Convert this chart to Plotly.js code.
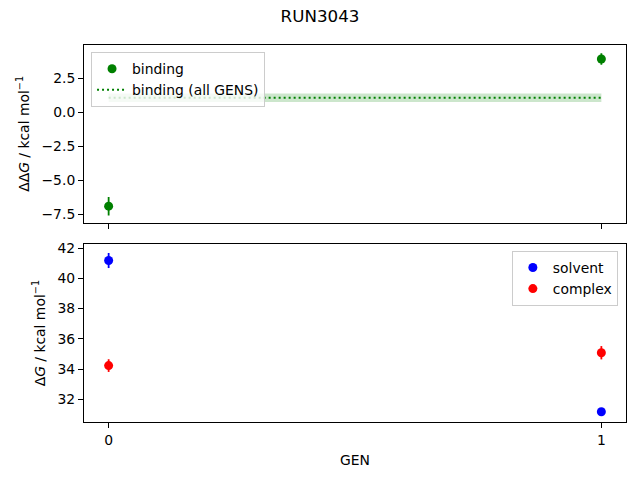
<!DOCTYPE html>
<html>
<head>
<meta charset="utf-8">
<script src="https://cdn.plot.ly/plotly-3.0.1.min.js"></script>
<style>body{margin:0;padding:0;}</style>
</head>
<body>
<div id="chart" style="width:640px;height:480px;"></div>
<script>
const gens = [0, 1];
const bindingVals = [-6.92, 3.9];
const bindingErr = [0.68, 0.42];
const bindingAll = 1.05;
const bindingAllErr = 0.32;
const solventVals = [41.18, 31.18];
const solventErr = [0.5, 0.15];
const complexVals = [34.23, 35.08];
const complexErr = [0.42, 0.44];

const font = {family: "DejaVu Sans", size: 13.9, color: "#000"};

const traces = [
  {x: [gens[0], gens[1], gens[1], gens[0]],
   y: [bindingAll - bindingAllErr, bindingAll - bindingAllErr, bindingAll + bindingAllErr, bindingAll + bindingAllErr],
   fill: "toself", fillcolor: "rgba(0,128,0,0.2)", line: {width: 0}, mode: "lines",
   showlegend: false, hoverinfo: "skip", xaxis: "x", yaxis: "y"},
  {x: gens, y: bindingVals, mode: "markers", name: "binding",
   marker: {color: "green", size: 9},
   error_y: {type: "data", array: bindingErr, color: "green", thickness: 1.8, width: 0},
   xaxis: "x", yaxis: "y", legend: "legend"},
  {x: gens, y: [bindingAll, bindingAll], mode: "lines", name: "binding (all GENS)",
   line: {color: "green", dash: "2px,3px", width: 2},
   xaxis: "x", yaxis: "y", legend: "legend"},
  {x: gens, y: solventVals, mode: "markers", name: "solvent",
   marker: {color: "blue", size: 9},
   error_y: {type: "data", array: solventErr, color: "blue", thickness: 1.8, width: 0},
   xaxis: "x2", yaxis: "y2", legend: "legend2"},
  {x: gens, y: complexVals, mode: "markers", name: "complex",
   marker: {color: "red", size: 9},
   error_y: {type: "data", array: complexErr, color: "red", thickness: 1.8, width: 0},
   xaxis: "x2", yaxis: "y2", legend: "legend2"}
];

const axisCommon = {
  showline: true, mirror: true, linecolor: "#000", linewidth: 1,
  ticks: "outside", ticklen: 5, tickwidth: 1, tickcolor: "#000",
  showgrid: false, zeroline: false, tickfont: font
};

const layout = {
  width: 640, height: 480,
  paper_bgcolor: "#fff", plot_bgcolor: "#fff",
  font: font,
  margin: {l: 84, r: 14, t: 45, b: 58},
  title: {text: "RUN3043", font: {family: "DejaVu Sans", size: 16.7, color: "#000"}, x: 0.5, xanchor: "center", y: 0.966, yanchor: "middle"},
  xaxis: Object.assign({}, axisCommon, {domain: [0, 1], range: [-0.05, 1.05], tickvals: gens, showticklabels: false, anchor: "y"}),
  yaxis: Object.assign({}, axisCommon, {domain: [0.5286, 1], range: [-8.14, 4.93], tickvals: [-7.5, -5, -2.5, 0, 2.5], tickformat: ".1f",
    title: {text: "ΔΔ<i>G</i> / kcal mol<sup>−1</sup>", font: font, standoff: 8}, anchor: "x"}),
  xaxis2: Object.assign({}, axisCommon, {domain: [0, 1], range: [-0.05, 1.05], tickvals: gens, anchor: "y2",
    title: {text: "GEN", font: font, standoff: 8}}),
  yaxis2: Object.assign({}, axisCommon, {domain: [0, 0.4714], range: [30.5, 42.25], tickvals: [32, 34, 36, 38, 40, 42],
    title: {text: "Δ<i>G</i> / kcal mol<sup>−1</sup>", font: font, standoff: 8}, anchor: "x2"}),
  legend: {x: 0.013, y: 0.981, xanchor: "left", yanchor: "top", bgcolor: "rgba(255,255,255,0.8)",
    bordercolor: "#ccc", borderwidth: 1, font: font, tracegroupgap: 0},
  legend2: {x: 0.985, y: 0.4536, xanchor: "right", yanchor: "top", bgcolor: "rgba(255,255,255,0.8)",
    bordercolor: "#ccc", borderwidth: 1, font: font, tracegroupgap: 0},
  showlegend: true
};

Plotly.newPlot("chart", traces, layout, {displayModeBar: false, staticPlot: true});
</script>
</body>
</html>
